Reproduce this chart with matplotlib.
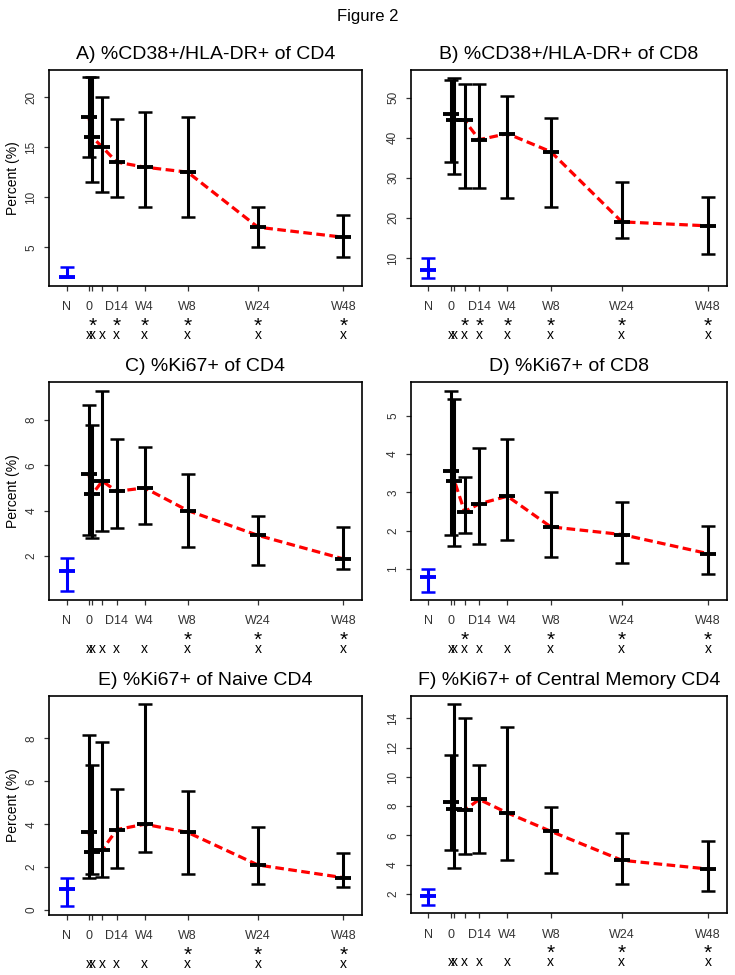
import matplotlib
matplotlib.use("Agg")
import matplotlib.pyplot as plt

plt.rcParams['font.family'] = ['Liberation Sans', 'DejaVu Sans']

# time points: N (normal controls), then the visits
labels = ["N", "0", "", "", "D14", "W4", "W8", "W24", "W48"]
xpos = [-4, 0, 0.6, 2.4, 5, 10, 17.7, 30.3, 45.6]

# A) %CD38+/HLA-DR+ of CD4
a_mean = [2.0, 18.0, 16.0, 15.0, 13.5, 13.0, 12.5, 7.0, 6.0]
a_low = [2.0, 14.0, 11.5, 10.5, 10.0, 9.0, 8.0, 5.0, 4.0]
a_high = [3.0, 22.0, 22.0, 20.0, 17.8, 18.5, 18.0, 9.0, 8.2]
a_stars = [2, 4, 5, 6, 7, 8]

# B) %CD38+/HLA-DR+ of CD8
b_mean = [7.0, 46.0, 44.3, 44.3, 39.5, 41.0, 36.5, 19.0, 18.0]
b_low = [5.0, 34.0, 31.0, 27.5, 27.5, 25.0, 22.8, 15.0, 11.0]
b_high = [10.0, 54.5, 55.0, 53.5, 53.5, 50.5, 44.8, 29.0, 25.3]
b_stars = [3, 4, 5, 6, 7, 8]

# C) %Ki67+ of CD4
c_mean = [1.32, 5.62, 4.72, 5.3, 4.85, 5.0, 4.0, 2.9, 1.86]
c_low = [0.45, 2.9, 2.77, 3.1, 3.23, 3.42, 2.4, 1.61, 1.41]
c_high = [1.9, 8.65, 7.8, 9.3, 7.15, 6.8, 5.6, 3.76, 3.28]
c_stars = [6, 7, 8]

# D) %Ki67+ of CD8
d_mean = [0.8, 3.55, 3.3, 2.5, 2.7, 2.9, 2.1, 1.9, 1.4]
d_low = [0.4, 1.9, 1.6, 1.95, 1.66, 1.75, 1.3, 1.16, 0.87]
d_high = [1.0, 5.65, 5.45, 3.4, 4.17, 4.4, 3.0, 2.76, 2.13]
d_stars = [3, 6, 7, 8]

# E) %Ki67+ of Naive CD4
e_mean = [1.0, 3.65, 2.72, 2.8, 3.75, 4.0, 3.62, 2.1, 1.51]
e_low = [0.2, 1.48, 1.68, 1.56, 1.94, 2.72, 1.68, 1.2, 1.09]
e_high = [1.51, 8.15, 6.75, 7.85, 5.62, 9.6, 5.55, 3.85, 2.65]
e_stars = [6, 7, 8]

# F) %Ki67+ of Central Memory CD4
f_mean = [1.85, 8.28, 7.84, 7.73, 8.46, 7.54, 6.28, 4.3, 3.7]
f_low = [1.25, 5.0, 3.8, 4.75, 4.82, 4.32, 3.42, 2.66, 2.2]
f_high = [2.3, 11.5, 15.0, 14.0, 10.83, 13.42, 7.95, 6.15, 5.65]
f_stars = [6, 7, 8]

W, H = 735, 975


def box(l, t, r, b):
    return [l / W, 1 - b / H, (r - l) / W, (b - t) / H]


panels = [
    ("A) %CD38+/HLA-DR+ of CD4", a_mean, a_low, a_high, a_stars,
     (1.13, 22.7), [5, 10, 15, 20], box(49.3, 70, 361.7, 286), True),
    ("B) %CD38+/HLA-DR+ of CD8", b_mean, b_low, b_high, b_stars,
     (3.0, 57.0), [10, 20, 30, 40, 50], box(411, 69.5, 726.7, 286), False),
    ("C) %Ki67+ of CD4", c_mean, c_low, c_high, c_stars,
     (0.04, 9.7), [2, 4, 6, 8], box(49.3, 381.7, 361.7, 600), True),
    ("D) %Ki67+ of CD8", d_mean, d_low, d_high, d_stars,
     (0.19, 5.89), [1, 2, 3, 4, 5], box(411, 381.7, 726.7, 600), False),
    ("E) %Ki67+ of Naive CD4", e_mean, e_low, e_high, e_stars,
     (-0.23, 9.99), [0, 2, 4, 6, 8], box(49.3, 695.7, 361.7, 915), True),
    ("F) %Ki67+ of Central Memory CD4", f_mean, f_low, f_high, f_stars,
     (0.67, 15.56), [2, 4, 6, 8, 10, 12, 14], box(411, 695.7, 726.7, 913.3), False),
]

fig = plt.figure(figsize=(W / 100, H / 100), dpi=100)
fig.text(0.5, 1 - 16 / H, "Figure 2", ha="center", va="center", fontsize=12)

for title, mean, low, high, stars, ylim, yticks, rect, ylab in panels:
    ax = fig.add_axes(rect)
    ax.plot(xpos[1:], mean[1:], color="red", lw=2.3, ls=(0, (2.7, 1.4)), zorder=1)
    for i in range(len(xpos)):
        c = "blue" if i == 0 else "black"
        ax.vlines(xpos[i], low[i], high[i], color=c, lw=2.2, zorder=2)
        ax.plot([xpos[i], xpos[i]], [low[i], high[i]], ls="none", marker="_",
                ms=9.4, mew=1.8, color=c, zorder=3)
        ax.plot([xpos[i]], [mean[i]], ls="none", marker="_",
                ms=11, mew=2.8, color=c, zorder=3)

    ax.set_xlim(-7.1, 48.9)
    ax.set_ylim(*ylim)
    ax.set_xticks(xpos)
    ax.set_xticklabels(labels)
    ax.set_yticks(yticks)
    ax.tick_params(direction="out", length=3.6, width=0.9, colors="#333333")
    ax.tick_params(axis="x", labelsize=9, pad=7.5, labelcolor="#333333")
    ax.tick_params(axis="y", labelsize=8.5, pad=5, labelcolor="#333333")
    plt.setp(ax.get_yticklabels(), rotation=90, va="center")
    for s in ax.spines.values():
        s.set_linewidth(1.2)
    ax.set_title(title, fontsize=14, pad=7.7)
    if ylab:
        ax.set_ylabel("Percent (%)", fontsize=10)
        ax.yaxis.set_label_coords(-0.094, 0.5)

    # significance rows under the axis
    for i in range(1, len(xpos)):
        ax.annotate("x", xy=(xpos[i], 0), xycoords=("data", "axes fraction"),
                    xytext=(0, -52.6 * 0.72), textcoords="offset points",
                    ha="center", va="baseline", fontsize=10, annotation_clip=False)
    for i in stars:
        ax.annotate("*", xy=(xpos[i], 0), xycoords=("data", "axes fraction"),
                    xytext=(0, -46 * 0.72), textcoords="offset points",
                    ha="center", va="baseline", fontsize=15, annotation_clip=False)

fig.savefig("out.png", dpi=100)
